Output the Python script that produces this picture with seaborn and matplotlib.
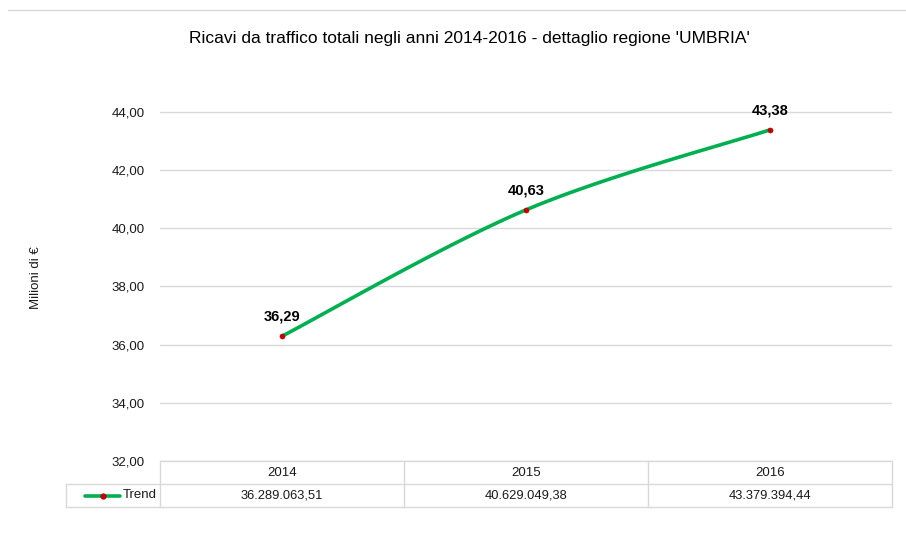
import matplotlib
matplotlib.use("Agg")
import matplotlib.pyplot as plt
import numpy as np
import seaborn as sns
from matplotlib.lines import Line2D

years = ["2014", "2015", "2016"]
valori = [36.289063, 40.629049, 43.379394]
valori_testo = ["36.289.063,51", "40.629.049,38", "43.379.394,44"]
etichette = ["36,29", "40,63", "43,38"]
serie = "Trend"
yticks = [32, 34, 36, 38, 40, 42, 44]

sns.set_style("white")
plt.rcParams["font.family"] = ["Liberation Sans", "DejaVu Sans"]

GREEN = "#00b050"
RED = "#c00000"
GRID = "#d9d9d9"
TXT = "#1a1a1a"

W, H = 906, 533
fig = plt.figure(figsize=(W / 100, H / 100), dpi=100)
fig.patch.set_facecolor("white")
AX_L, AX_B, AX_W, AX_H = 160, 72, 732, 366.7
ax = fig.add_axes([AX_L / W, AX_B / H, AX_W / W, AX_H / H])

xs = np.arange(len(years))
ys = np.array(valori)

# smoothed line (Excel-style bezier through the points)
px = np.concatenate([[xs[0]], xs, [xs[-1]]])
py = np.concatenate([[ys[0]], ys, [ys[-1]]])
cx, cy = [], []
t = np.linspace(0, 1, 60)
for i in range(1, len(px) - 2):
    p0 = np.array([px[i], py[i]])
    p3 = np.array([px[i + 1], py[i + 1]])
    c1 = p0 + (np.array([px[i + 1], py[i + 1]]) - np.array([px[i - 1], py[i - 1]])) / 6
    c2 = p3 - (np.array([px[i + 2], py[i + 2]]) - np.array([px[i], py[i]])) / 6
    b = ((1 - t) ** 3)[:, None] * p0 + (3 * (1 - t) ** 2 * t)[:, None] * c1 \
        + (3 * (1 - t) * t ** 2)[:, None] * c2 + (t ** 3)[:, None] * p3
    cx.extend(b[:, 0])
    cy.extend(b[:, 1])

sns.lineplot(x=cx, y=cy, ax=ax, color=GREEN, linewidth=2.6, sort=False, zorder=3)
sns.scatterplot(x=xs, y=ys, ax=ax, color=RED, s=14, edgecolor=RED, zorder=4)

for x, y, lab in zip(xs, ys, etichette):
    ax.annotate(lab, (x, y), xytext=(0, 9), textcoords="offset points",
                ha="center", va="bottom", fontsize=10.5, fontweight="bold", color="black")

ax.set_xlim(-0.5, 2.5)
ax.set_ylim(32, 44.6)
ax.set_yticks(yticks)
ax.set_yticklabels([f"{v:.2f}".replace(".", ",") for v in yticks], fontsize=9.5, color=TXT)
ax.tick_params(axis="y", length=0, pad=11)
ax.set_xticks([])
ax.yaxis.grid(True, color=GRID, linewidth=1)
for s in ax.spines.values():
    s.set_visible(False)
ax.set_ylabel("Milioni di €", fontsize=9.5, labelpad=50, color=TXT)

fig.text(469 / W, 1 - 38 / H,
         "Ricavi da traffico totali negli anni 2014-2016 - dettaglio regione 'UMBRIA'",
         ha="center", va="center", fontsize=12.5, color="black")

# data table under the axis, drawn in axes coordinates
lx = -94 / AX_W
r1 = -23 / AX_H
r2 = -46 / AX_H
kw = dict(transform=ax.transAxes, color=GRID, linewidth=1, clip_on=False)
ax.add_line(Line2D([0, 1], [0, 0], **kw))
ax.add_line(Line2D([lx, 1], [r1, r1], **kw))
ax.add_line(Line2D([lx, 1], [r2, r2], **kw))
ax.add_line(Line2D([lx, lx], [r1, r2], **kw))
for k in range(len(years) + 1):
    xv = k / len(years)
    ax.add_line(Line2D([xv, xv], [0, r2], **kw))

for k, (yr, val) in enumerate(zip(years, valori_testo)):
    xc = (k + 0.5) / len(years)
    ax.text(xc, r1 / 2, yr, transform=ax.transAxes, ha="center", va="center",
            fontsize=9.5, color=TXT)
    ax.text(xc, (r1 + r2) / 2, val, transform=ax.transAxes, ha="center", va="center",
            fontsize=9.3, color=TXT)

# legend key inside the row label cell
ky = (r1 + r2) / 2
ax.add_line(Line2D([-75 / AX_W, -40 / AX_W], [ky, ky], transform=ax.transAxes,
                   color=GREEN, linewidth=2.6, clip_on=False, zorder=5))
ax.add_line(Line2D([-57 / AX_W], [ky], transform=ax.transAxes, marker="o",
                   markersize=3.5, color=RED, clip_on=False, zorder=6))
ax.text(-37 / AX_W, ky, serie, transform=ax.transAxes, ha="left", va="center",
        fontsize=9.5, color=TXT)

fig.add_artist(Line2D([8 / W, 1], [1 - 10 / H, 1 - 10 / H], color=GRID, linewidth=1))

fig.savefig("out.png", dpi=100, facecolor="white")
